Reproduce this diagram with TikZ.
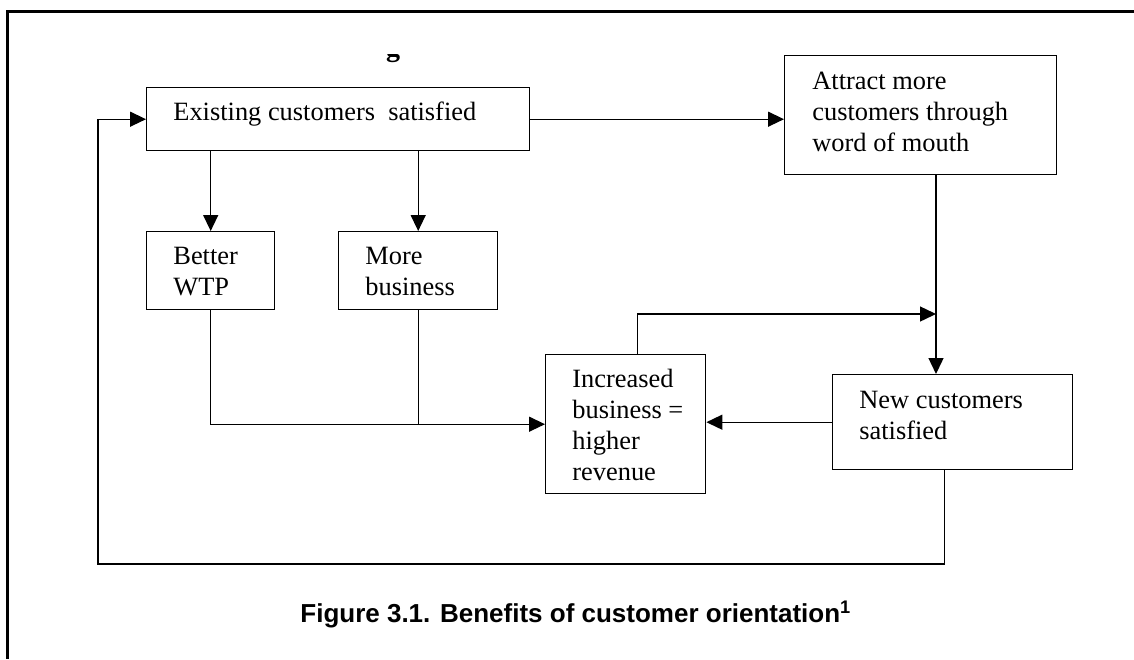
\documentclass[tikz,border=0pt]{standalone}
\usepackage{fontspec}
\setmainfont{Liberation Serif}
\newfontfamily\capfont{Liberation Sans}
\usepackage{tikz}
\usetikzlibrary{arrows.meta}

\begin{document}
\begin{tikzpicture}[x=0.5pt, y=-0.5pt,
        blk/.style={draw, line width=0.7pt, rectangle, anchor=north west, inner sep=0pt},
        txt/.style={anchor=base west, inner sep=0pt, align=left, font=\fontsize{13.2}{15.5}\selectfont},
        arr/.style={line width=0.7pt, -{Triangle[length=8pt, width=7.5pt]}},
        lin/.style={line width=0.7pt}]
        \useasboundingbox (0,0) rectangle (1134,659);

        % Frame
        \draw[line width=1.5pt] (1134,11) -- (7,11) -- (7,659);
        \begin{scope}
            \clip (370,54) rectangle (420,70);
            \node[txt, anchor=base, font=\bfseries\fontsize{14}{16}\selectfont] (cut) at (393,56) {g};
        \end{scope}

        % Nodes
        \node[blk, minimum width=191.5pt, minimum height=31.5pt] (exist) at (146,87) {};
        \node[blk, minimum width=136pt, minimum height=59.5pt] (attract) at (784,55) {};
        \node[blk, minimum width=64pt, minimum height=39pt] (wtp) at (146,231) {};
        \node[blk, minimum width=79.5pt, minimum height=39pt] (more) at (338,231) {};
        \node[blk, minimum width=80pt, minimum height=69.5pt] (incr) at (545,354) {};
        \node[blk, minimum width=120pt, minimum height=47.5pt] (new) at (832,374) {};

        % Texts (anchored at the last line)
        \node[txt] (existtxt) at (173,120) {Existing customers\ \ satisfied};
        \node[txt] (attracttxt) at (812,151) {Attract more\\customers through\\word of mouth};
        \node[txt] (wtptxt) at (173,295) {Better\\WTP};
        \node[txt] (moretxt) at (365,295) {More\\business};
        \node[txt] (incrtxt) at (572,480) {Increased\\business =\\higher\\revenue};
        \node[txt] (newtxt) at (859,439) {New customers\\satisfied};

        \coordinate (jn) at (936,314);
        \coordinate (lp) at (98,564);

        % Lines
        \draw[arr] (exist.east) -- (exist.east -| attract.west);
        \draw[arr] (wtp.north |- exist.south) -- (wtp.north);
        \draw[arr] (more.north |- exist.south) -- (more.north);
        \draw[arr] (wtp.south) |- (incr.west);
        \draw[lin] (more.south) -- (more.south |- incr.west);
        \draw[arr] (attract.south -| jn) -- (jn |- new.north);
        \draw[arr] ([xshift=6pt]incr.north) |- (jn);
        \draw[arr] (new.west) -- (new.west -| incr.east);
        \draw[arr] ([xshift=-4pt]new.south) |- (lp) |- (exist.west);

        % Caption
        \node[anchor=base west, inner sep=0pt, font=\capfont\bfseries\fontsize{13}{15}\selectfont] (cap) at (300,622)
            {Figure 3.1. Benefits of customer orientation\textsuperscript{1}};
\end{tikzpicture}
\end{document}
